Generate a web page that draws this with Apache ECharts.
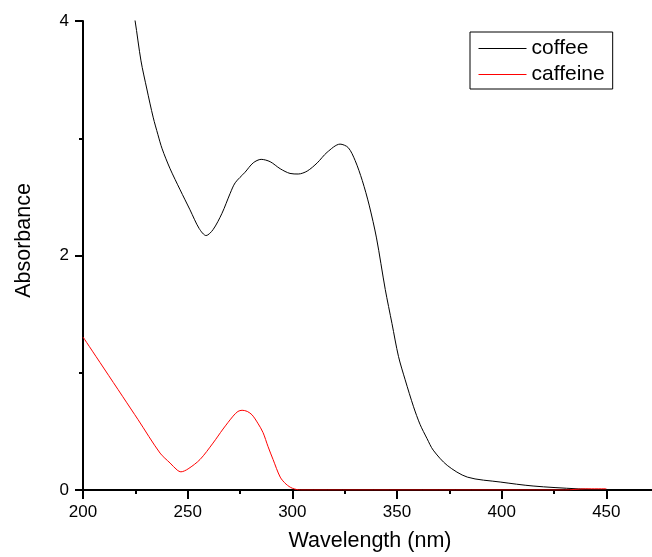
<!DOCTYPE html>
<html>
<head>
<meta charset="utf-8">
<title>Absorbance spectra: coffee and caffeine</title>
<script src="https://cdn.jsdelivr.net/npm/echarts@6/dist/echarts.min.js"></script>
<style>
  html, body { margin: 0; padding: 0; background: #fff; }
  #chart { width: 652px; height: 557px; }
</style>
</head>
<body>
<div id="chart"></div>
<script>
// UV absorbance spectrum of a coffee sample (nm, absorbance)
var coffeeWavelength = [222, 224.9, 227.7, 230.5, 233.5, 235.8, 237.8, 241.6, 246.4, 251.1, 255.5, 258.8,
  262.1, 266.4, 270.3, 272.7, 277.4, 281.3, 285.1, 289.4, 294.2, 298.9, 302.8, 307.1,
  311.9, 316.6, 322.8, 326.7, 330.0, 333.4, 336.7, 340.2, 344.4, 347.6, 350.7, 353.9,
  357.9, 361.0, 364.3, 367.3, 374.0, 383.6, 399.3, 415.0, 436.0, 450.0];
var coffeeAbsorbance = [4.30, 4.00, 3.66, 3.42, 3.18, 3.03, 2.91, 2.74, 2.56, 2.39, 2.23, 2.17,
  2.22, 2.36, 2.53, 2.62, 2.71, 2.79, 2.82, 2.80, 2.74, 2.70, 2.695, 2.72,
  2.79, 2.88, 2.95, 2.92, 2.81, 2.64, 2.43, 2.15, 1.71, 1.42, 1.14, 0.94,
  0.71, 0.56, 0.44, 0.34, 0.21, 0.11, 0.068, 0.034, 0.01, 0.0];

// UV absorbance spectrum of caffeine
var caffeineWavelength = [200, 226.3, 236.8, 241.6, 245.0, 246.8, 250.2, 255.9, 262.1, 266.9,
  271.7, 274.0, 276.0, 278.5, 280.8, 283.5, 286.0, 288.4, 290.8, 294.2, 297.0, 300.0,
  304.0, 310.0, 430.0, 440.0, 450.0];
var caffeineAbsorbance = [1.305, 0.60, 0.315, 0.23, 0.17, 0.155, 0.18, 0.26, 0.40, 0.52,
  0.63, 0.67, 0.68, 0.67, 0.64, 0.57, 0.49, 0.37, 0.26, 0.11, 0.05, 0.015,
  0.0, 0.0, 0.0, 0.01, 0.01];

// Series names and colours
var seriesNames = ['coffee', 'caffeine'];
var seriesColors = ['#000000', '#ff0000'];

// Axis ranges and tick steps
var xMin = 200, xMax = 500, xStep = 50;
var yMin = 0, yMax = 4, yStep = 2;

function pairs(xs, ys) {
  return xs.map(function (x, i) { return [x, ys[i]]; });
}

var FONT = '"Liberation Sans", Arial, Helvetica, sans-serif';

var chart = echarts.init(document.getElementById('chart'), null, { renderer: 'canvas' });

chart.setOption({
  animation: false,
  backgroundColor: '#ffffff',
  color: seriesColors,
  textStyle: { fontFamily: FONT, color: '#000' },
  grid: { left: 83, top: 21, bottom: 67, right: -59, containLabel: false, outerBoundsMode: 'none' },
  legend: {
    orient: 'vertical',
    left: 470,
    top: 32,
    padding: [6, 8, 4, 8],
    itemGap: 5,
    itemWidth: 48,
    itemHeight: 13,
    borderColor: '#000',
    borderWidth: 1,
    backgroundColor: '#fff',
    textStyle: { fontFamily: FONT, fontSize: 21, color: '#000' },
    data: seriesNames.map(function (n, i) {
      return {
        name: n,
        itemStyle: { opacity: 0 },
        lineStyle: { color: seriesColors[i], width: 1, opacity: 1 }
      };
    })
  },
  xAxis: {
    type: 'value',
    min: xMin,
    max: xMax,
    interval: xStep,
    z: 3,
    name: 'Wavelength (nm)',
    nameLocation: 'middle',
    nameGap: 40,
    nameTextStyle: { fontFamily: FONT, fontSize: 21.5, color: '#000', padding: [0, 54, 0, 0] },
    axisLine: { show: true, lineStyle: { color: '#000', width: 2 } },
    axisTick: { show: true, inside: false, length: 9, lineStyle: { color: '#000', width: 2 } },
    minorTick: { show: true, splitNumber: 2, length: 4, lineStyle: { color: '#000', width: 2 } },
    axisLabel: { fontFamily: FONT, fontSize: 17, color: '#000', margin: 14, showMaxLabel: false },
    splitLine: { show: false },
    minorSplitLine: { show: false }
  },
  yAxis: {
    type: 'value',
    min: yMin,
    max: yMax,
    interval: yStep,
    z: 3,
    name: 'Absorbance',
    nameLocation: 'middle',
    nameGap: 48,
    nameTextStyle: { fontFamily: FONT, fontSize: 21.5, color: '#000', padding: [0, 0, 0, 30] },
    axisLine: { show: true, lineStyle: { color: '#000', width: 2 } },
    axisTick: { show: true, inside: false, length: 8, lineStyle: { color: '#000', width: 2 } },
    minorTick: { show: true, splitNumber: 2, length: 4, lineStyle: { color: '#000', width: 2 } },
    axisLabel: { fontFamily: FONT, fontSize: 17, color: '#000', margin: 14 },
    splitLine: { show: false },
    minorSplitLine: { show: false }
  },
  series: [
    {
      name: seriesNames[0],
      type: 'line',
      data: pairs(coffeeWavelength, coffeeAbsorbance),
      symbol: 'none',
      smooth: 0.3,
      clip: true,
      color: seriesColors[0],
      lineStyle: { color: seriesColors[0], width: 1 }
    },
    {
      name: seriesNames[1],
      type: 'line',
      data: pairs(caffeineWavelength, caffeineAbsorbance),
      symbol: 'none',
      smooth: 0.3,
      clip: true,
      color: seriesColors[1],
      lineStyle: { color: seriesColors[1], width: 1 }
    }
  ]
});
</script>
</body>
</html>
